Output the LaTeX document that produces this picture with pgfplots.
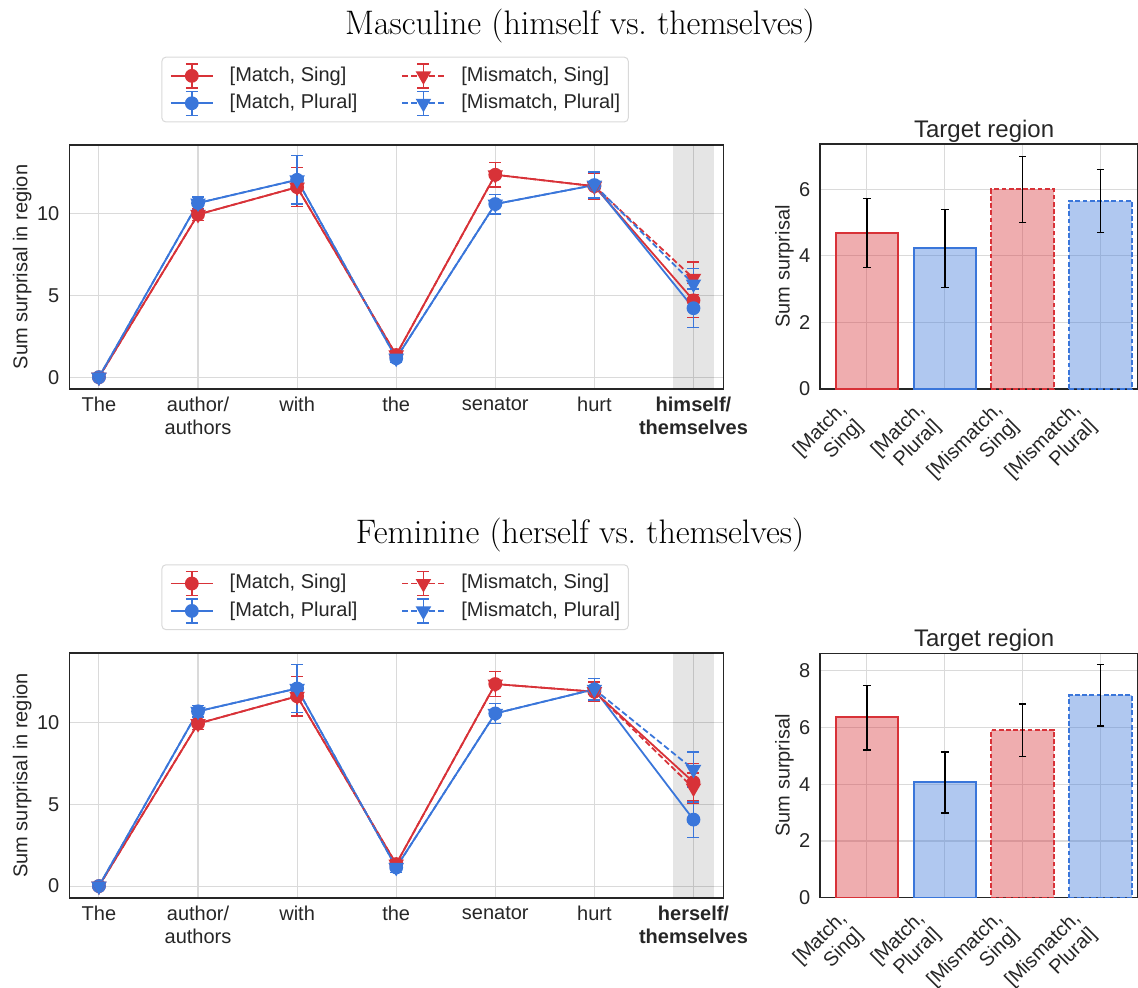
\documentclass[border=0pt]{standalone}
\usepackage{pgfplots}
\pgfplotsset{compat=1.18}
\usepackage{fontspec}
\newfontfamily\lsans{Liberation Sans}
\definecolor{cred}{RGB}{216,50,56}
\definecolor{cblue}{RGB}{58,118,218}
\definecolor{txtgray}{RGB}{38,38,38}
\definecolor{gridgray}{RGB}{218,218,218}

\pgfplotsset{
  legend image code/.code={
    \draw[#1, solid, mark=none, line width=0.7pt] (10.5pt,-6pt) -- (10.5pt,6pt) (7.5pt,-6pt) -- (13.5pt,-6pt) (7.5pt,6pt) -- (13.5pt,6pt);
    \draw[mark repeat=2, mark phase=2, #1] plot coordinates {(0pt,0pt) (10.5pt,0pt) (21pt,0pt)};
  },
  base/.style={
    scale only axis, anchor=north west,
    axis line style={draw=txtgray, line width=0.6pt},
    xmajorgrids, ymajorgrids,
    major grid style={draw=gridgray, line width=0.55pt},
    major tick length=0pt,
    tick label style={font=\lsans\fontsize{10}{11.5}\selectfont, text=txtgray},
    label style={font=\lsans\fontsize{10}{12}\selectfont, text=txtgray},
    /pgf/number format/assume math mode=true,
    yticklabel style={xshift=-1.4pt},
  },
  lineax/.style={base, width=327pt, height=122pt, xmin=-0.3, xmax=6.3, xtick={0,1,2,3,4,5,6},
    xticklabel style={align=center, yshift=-0.7pt},
    ytick={0,5,10},
    ylabel={Sum surprisal in region},
    ylabel style={at={(axis description cs:-0.072,0.5)}, anchor=center},
    error bars/y dir=both, error bars/y explicit,
    legend columns=2, transpose legend, legend cell align=left,
    legend style={at={(axis description cs:0.141,1.362)}, anchor=north west,
      draw=black!15, line width=0.5pt, rounded corners=2pt, fill=white,
      font=\lsans\fontsize{10}{12}\selectfont, text=txtgray,
      inner xsep=4pt, inner ysep=3pt, row sep=1pt,
      nodes={inner xsep=0pt, inner ysep=0pt, text height=7.5pt, text depth=2.2pt},
      /tikz/every odd column/.append style={column sep=8pt},
      /tikz/every even column/.append style={column sep=22pt}},
  },
  barax/.style={base, width=159pt, xmin=-0.6, xmax=3.48, xtick={0,1,2,3}, ymin=0,
    ybar, bar width=0.8,
    xticklabels={{[Match,\\Sing]},{[Match,\\Plural]},{[Mismatch,\\Sing]},{[Mismatch,\\Plural]}},
    xticklabel style={inner sep=0pt, align=right, anchor=east, xshift=-7.4pt, yshift=-13pt, rotate=45},
    ylabel={Sum surprisal},
    ylabel style={at={(axis description cs:-0.1116,0.5)}, anchor=center},
    title={Target region},
    every axis title/.style={at={(0.516,1)}, anchor=base, yshift=3.4pt, font=\lsans\fontsize{12}{14}\selectfont, text=txtgray},
    error bars/y dir=both, error bars/y explicit,
    error bars/error bar style={draw=black, line width=0.8pt, solid},
    error bars/error mark options={rotate=90, draw=black, line width=0.8pt, mark size=1.9pt, solid},
  },
  eb/.style={error bars/error bar style={draw=#1, line width=0.7pt, solid},
    error bars/error mark options={rotate=90, draw=#1, line width=0.7pt, mark size=3pt, solid}},
  ms/.style={cred, line width=0.9pt, mark=*, mark size=3pt, mark options={solid, fill=cred, draw=cred}, eb=cred},
  mp/.style={cblue, line width=0.9pt, mark=*, mark size=3pt, mark options={solid, fill=cblue, draw=cblue}, eb=cblue},
  mms/.style={cred, line width=0.9pt, dash pattern=on 3pt off 1.5pt, mark=triangle*, mark size=3.6pt, mark options={solid, rotate=180, fill=cred, draw=cred}, eb=cred},
  mmp/.style={cblue, line width=0.9pt, dash pattern=on 3pt off 1.5pt, mark=triangle*, mark size=3.6pt, mark options={solid, rotate=180, fill=cblue, draw=cblue}, eb=cblue},
  rbar/.style={bar shift=0pt, draw=cred, fill=cred, fill opacity=0.4, line width=1pt},
  bbar/.style={bar shift=0pt, draw=cblue, fill=cblue, fill opacity=0.4, line width=1pt},
  dsh/.style={dash pattern=on 2.4pt off 1.2pt},
}

\begin{document}
\begin{tikzpicture}
\useasboundingbox (0pt,0pt) rectangle (569pt,-494pt);

\node[font=\fontsize{17}{20}\selectfont, anchor=base] at (290pt,-17.5pt) {Masculine (himself vs.\ themselves)};
\node[font=\fontsize{17}{20}\selectfont, anchor=base] at (290pt,-271.5pt) {Feminine (herself vs.\ themselves)};

% ---------- top left ----------
\begin{axis}[lineax, at={(34.6pt,-72.5pt)}, ymin=-0.72, ymax=14.2,
  xticklabels={The,{author/\\authors},with,the,senator,hurt,{\textbf{himself/}\\\textbf{themselves}}}]
\fill[black, fill opacity=0.1] (axis cs:5.79,-0.72) rectangle (axis cs:6.21,14.2);
\addplot[ms] coordinates {(0,0) +- (0,0.15) (1,9.95) +- (0,0.38) (2,11.62) +- (0,1.19) (3,1.36) +- (0,0.25) (4,12.38) +- (0,0.76) (5,11.68) +- (0,0.8) (6,4.70) +- (0,1.04)};
\addlegendentry{[Match, Sing]}
\addplot[mp] coordinates {(0,0) +- (0,0.15) (1,10.65) +- (0,0.38) (2,12.07) +- (0,1.48) (3,1.16) +- (0,0.25) (4,10.59) +- (0,0.6) (5,11.75) +- (0,0.8) (6,4.22) +- (0,1.17)};
\addlegendentry{[Match, Plural]}
\addplot[mms] coordinates {(0,0) +- (0,0.15) (1,9.95) +- (0,0.38) (2,11.62) +- (0,1.19) (3,1.36) +- (0,0.25) (4,12.38) +- (0,0.76) (5,11.68) +- (0,0.8) (6,6.05) +- (0,1.0)};
\addlegendentry{[Mismatch, Sing]}
\addplot[mmp] coordinates {(0,0) +- (0,0.15) (1,10.65) +- (0,0.38) (2,12.07) +- (0,1.48) (3,1.16) +- (0,0.25) (4,10.59) +- (0,0.6) (5,11.75) +- (0,0.8) (6,5.70) +- (0,0.95)};
\addlegendentry{[Mismatch, Plural]}
\end{axis}

% ---------- top right ----------
\begin{axis}[barax, at={(410pt,-72pt)}, height=122.5pt, ymax=7.36, ytick={0,2,4,6}]
\addplot[rbar] coordinates {(0,4.68) += (0,1.04) -= (0,1.03)};
\addplot[bbar] coordinates {(1,4.24) += (0,1.15) -= (0,1.19)};
\addplot[rbar, dsh] coordinates {(2,6.00) += (0,0.99) -= (0,1.00)};
\addplot[bbar, dsh] coordinates {(3,5.66) += (0,0.93) -= (0,0.96)};
\end{axis}

% ---------- bottom left ----------
\begin{axis}[lineax, at={(34.6pt,-326.5pt)}, height=122.5pt, ymin=-0.73, ymax=14.27,
  xticklabels={The,{author/\\authors},with,the,senator,hurt,{\textbf{herself/}\\\textbf{themselves}}}]
\fill[black, fill opacity=0.1] (axis cs:5.79,-0.73) rectangle (axis cs:6.21,14.27);
\addplot[ms] coordinates {(0,0) +- (0,0.15) (1,9.95) +- (0,0.37) (2,11.62) +- (0,1.2) (3,1.35) +- (0,0.3) (4,12.37) +- (0,0.77) (5,11.9) +- (0,0.6) (6,6.36) +- (0,1.14)};
\addlegendentry{[Match, Sing]}
\addplot[mp] coordinates {(0,0) +- (0,0.15) (1,10.7) +- (0,0.35) (2,12.1) +- (0,1.48) (3,1.14) +- (0,0.3) (4,10.57) +- (0,0.6) (5,12.05) +- (0,0.65) (6,4.07) +- (0,1.08)};
\addlegendentry{[Match, Plural]}
\addplot[mms] coordinates {(0,0) +- (0,0.15) (1,9.95) +- (0,0.37) (2,11.62) +- (0,1.2) (3,1.35) +- (0,0.3) (4,12.37) +- (0,0.77) (5,11.9) +- (0,0.6) (6,6.0) +- (0,0.93)};
\addlegendentry{[Mismatch, Sing]}
\addplot[mmp] coordinates {(0,0) +- (0,0.15) (1,10.7) +- (0,0.35) (2,12.1) +- (0,1.48) (3,1.14) +- (0,0.3) (4,10.57) +- (0,0.6) (5,12.05) +- (0,0.65) (6,7.14) +- (0,1.08)};
\addlegendentry{[Mismatch, Plural]}
\end{axis}

% ---------- bottom right ----------
\begin{axis}[barax, at={(410pt,-326.65pt)}, height=122.2pt, ymax=8.62, ytick={0,2,4,6,8}]
\addplot[rbar] coordinates {(0,6.36) += (0,1.13) -= (0,1.16)};
\addplot[bbar] coordinates {(1,4.07) += (0,1.07) -= (0,1.09)};
\addplot[rbar, dsh] coordinates {(2,5.93) += (0,0.91) -= (0,0.95)};
\addplot[bbar, dsh] coordinates {(3,7.14) += (0,1.08) -= (0,1.09)};
\end{axis}
\end{tikzpicture}
\end{document}
